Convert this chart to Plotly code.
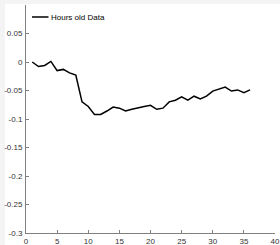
import plotly.graph_objects as go

x_vals = list(range(1, 37))
hours_old = [0.000, -0.008, -0.006, 0.001, -0.015, -0.013, -0.019, -0.023,
             -0.070, -0.078, -0.092, -0.092, -0.086, -0.079, -0.081, -0.086,
             -0.083, -0.080, -0.078, -0.076, -0.083, -0.081, -0.070, -0.067,
             -0.061, -0.067, -0.060, -0.065, -0.060, -0.051, -0.048, -0.044,
             -0.051, -0.049, -0.054, -0.049]
series_name = "Hours old Data"

x_ticks = [0, 5, 10, 15, 20, 25, 30, 35, 40]
y_ticks = [-0.3, -0.25, -0.2, -0.15, -0.1, -0.05, 0, 0.05]
y_tick_labels = ["-0.3", "-0.25", "-0.2", "-0.15", "-0.1", "-0.05", "0", "0.05"]

W, H = 280, 245
ml, mr, mt, mb = 26, 5, 5, 12
pw, ph = W - ml - mr, H - mt - mb


def px_x(x):
    return (x - ml) / pw


def px_y(y):
    return (H - mb - y) / ph


fig = go.Figure()
fig.add_trace(go.Scatter(x=x_vals, y=hours_old, mode="lines",
                         name=series_name, showlegend=False,
                         line=dict(color="black", width=1.5)))

# white figure area (outer light gray border as in reference)
fig.add_shape(type="rect", xref="paper", yref="paper",
              x0=px_x(5), x1=px_x(W + 2), y0=px_y(H + 2), y1=px_y(4),
              fillcolor="white", line=dict(width=0), layer="below")

# legend (MATLAB style, no box)
fig.add_shape(type="line", xref="paper", yref="paper",
              x0=px_x(32), x1=px_x(48.5), y0=px_y(17), y1=px_y(17),
              line=dict(color="black", width=1.5))
fig.add_annotation(text=series_name, xref="paper", yref="paper",
                   x=px_x(49), y=px_y(17), xanchor="left", yanchor="middle",
                   showarrow=False,
                   font=dict(family="Liberation Sans, Arial", size=8, color="black"))

axis_common = dict(showline=True, linecolor="#808080", linewidth=1,
                   ticks="inside", ticklen=3, tickcolor="#808080",
                   showgrid=False, zeroline=False, mirror=False,
                   tickfont=dict(family="Liberation Sans, Arial", size=8, color="#333333"))

fig.update_layout(
    width=W, height=H,
    margin=dict(l=ml, r=mr, t=mt, b=mb),
    paper_bgcolor="#f4f4f4",
    plot_bgcolor="white",
    showlegend=False,
    xaxis=dict(range=[0, 40], tickvals=x_ticks, ticklabelstandoff=0,
               automargin=False, **axis_common),
    yaxis=dict(range=[-0.3, 0.1], tickvals=y_ticks, ticktext=y_tick_labels,
               ticklabelstandoff=1, automargin=False, **axis_common),
)

fig.write_html("out.html",
               config={"displayModeBar": False},
               post_script="document.body.style.margin='0';document.body.style.padding='0';")
